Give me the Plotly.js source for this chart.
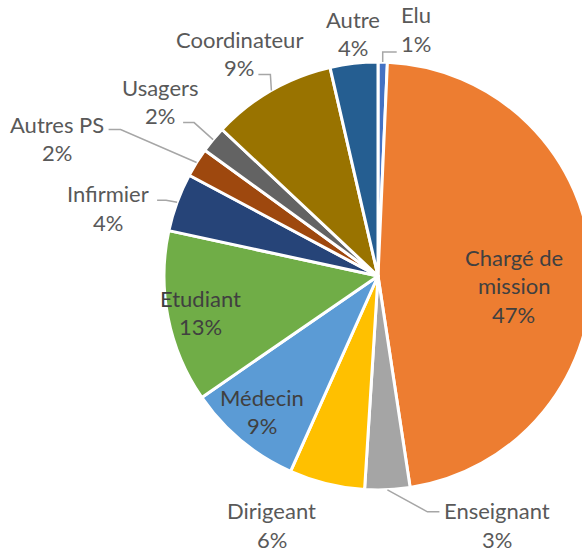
<!DOCTYPE html>
<html>
<head>
<meta charset="utf-8">
<script src="https://cdn.plot.ly/plotly-3.0.1.min.js"></script>
<style>
html,body{margin:0;padding:0;overflow:hidden;background:#fff;}
#chart{width:620px;height:551px;}
</style>
</head>
<body>
<div id="chart"></div>
<script>
// ---- data ----
const categories = ['Elu','Chargé de mission','Enseignant','Dirigeant','Médecin','Etudiant','Infirmier','Autres PS','Usagers','Coordinateur','Autre'];
const shares = [0.7, 46.9, 3.4, 5.7, 8.7, 13.0, 4.4, 2.2, 2.0, 9.4, 3.6];
const labelLines = {'Chargé de mission': ['Chargé de', 'mission']};

// ---- style ----
const colors = ['#4472C4','#ED7D31','#A5A5A5','#FFC000','#5B9BD5','#70AD47','#264478','#9E480E','#636363','#997300','#255E91'];
const W = 620, H = 551, CX = 378, CY = 276, R = 214;
// label block offsets (px) relative to the slice's outer mid point; optional leader line
const labelStyle = {
  'Elu':               {dx: 33,  dy: -33, leader: {sx: -19, sy: 23, elbow: -14}},
  'Chargé de mission': {dx: -78, dy: 21,  inside: true},
  'Enseignant':        {dx: 110, dy: 35,  leader: {sx: -58, sy: -13, elbow: -12}},
  'Dirigeant':         {dx: -55, dy: 41},
  'Médecin':           {dx: 21,  dy: -29, inside: true},
  'Etudiant':          {dx: 32,  dy: -5,  inside: true},
  'Infirmier':         {dx: -69, dy: 6,   leader: {sx: 49, sy: -8, elbow: 9}},
  'Autres PS':         {dx: -140,dy: -24, leader: {sx: 52, sy: -9, elbow: 12}},
  'Usagers':           {dx: -53, dy: -38, leader: {sx: 23, sy: 21, elbow: 11}},
  'Coordinateur':      {dx: -32, dy: -37, leader: {sx: 19, sy: 21, elbow: 12}},
  'Autre':             {dx: -1,  dy: -30}
};
const FONT = 'Lato, "Open Sans", sans-serif';
const FSIZE = 22;
const LINE = 28.5;

const px = x => x / W;
const py = y => 1 - y / H;

const total = shares.reduce((a, b) => a + b, 0);
const annotations = [];
const shapes = [];
let cum = 0;
shares.forEach((v, i) => {
  const name = categories[i];
  const mid = (cum + v / 2) / total * 2 * Math.PI;
  cum += v;
  const tx = CX + R * Math.sin(mid), ty = CY - R * Math.cos(mid);
  const st = labelStyle[name];
  const bx = tx + st.dx, by = ty + st.dy;
  const lines = (labelLines[name] || [name]).concat([Math.round(v / total * 100) + '%']);
  const col = st.inside ? '#404040' : '#595959';
  lines.forEach((t, k) => {
    const yy = by + (k - (lines.length - 1) / 2) * LINE;
    annotations.push({
      xref: 'paper', yref: 'paper', x: px(bx), y: py(yy),
      xanchor: 'center', yanchor: 'middle', showarrow: false, borderpad: 0,
      text: t, font: {family: FONT, size: FSIZE, color: col}
    });
  });
  if (st.leader) {
    const sx = bx + st.leader.sx, sy = by + st.leader.sy;
    const ex = sx + st.leader.elbow;
    shapes.push({
      type: 'path', xref: 'paper', yref: 'paper',
      path: `M ${px(sx)} ${py(sy)} L ${px(ex)} ${py(sy)} L ${px(tx)} ${py(ty)}`,
      line: {color: '#A6A6A6', width: 1.5}
    });
  }
});

const trace = {
  type: 'pie',
  labels: categories,
  values: shares,
  sort: false,
  direction: 'clockwise',
  rotation: 0,
  textinfo: 'none',
  hoverinfo: 'label+percent',
  marker: {colors: colors, line: {color: '#FFFFFF', width: 3}},
  domain: {x: [px(CX - R), px(CX + R)], y: [py(CY + R), py(CY - R)]},
  showlegend: false
};

Plotly.newPlot('chart', [trace], {
  width: W, height: H,
  margin: {l: 0, r: 0, t: 0, b: 0},
  paper_bgcolor: '#FFFFFF',
  showlegend: false,
  annotations: annotations,
  shapes: shapes
}, {staticPlot: true});
</script>
</body>
</html>
